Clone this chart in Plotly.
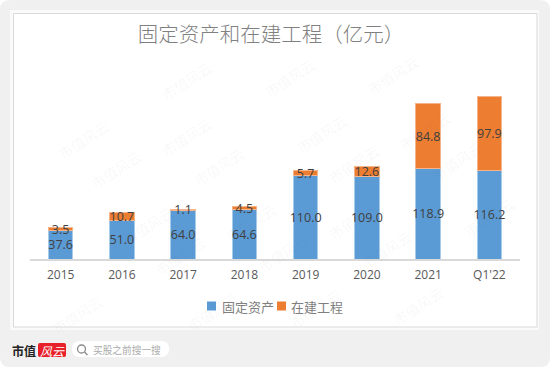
import plotly.graph_objects as go

W, H = 550, 367
categories = ["2015", "2016", "2017", "2018", "2019", "2020", "2021", "Q1'22"]
fixed_assets = [37.6, 51.0, 64.0, 64.6, 110.0, 109.0, 118.9, 116.2]
construction = [3.5, 10.7, 1.1, 4.5, 5.7, 12.6, 84.8, 97.9]
series_names = ["固定资产", "在建工程"]
series_colors = ["#5B9BD5", "#ED7D31"]
title_text = "固定资产和在建工程（亿元）"
watermark_text = "市值风云"
FONT = "Noto Sans CJK SC"

def px(x): return x / W
def py(y): return 1 - y / H

def rrect(x0, y0, x1, y1, r):
    X0, X1, Y0, Y1 = px(x0), px(x1), py(y0), py(y1)
    rx, ry = r / W, r / H
    return (f"M{X0+rx},{Y0} L{X1-rx},{Y0} Q{X1},{Y0} {X1},{Y0-ry} L{X1},{Y1+ry} Q{X1},{Y1} {X1-rx},{Y1} "
            f"L{X0+rx},{Y1} Q{X0},{Y1} {X0},{Y1+ry} L{X0},{Y0-ry} Q{X0},{Y0} {X0+rx},{Y0} Z")

fig = go.Figure()
fig.add_bar(name=series_names[0], x=categories, y=fixed_assets,
            marker=dict(color=series_colors[0], line=dict(color="#A9CBEA", width=1)),
            text=[f"{v:.1f}" for v in fixed_assets])
fig.add_bar(name=series_names[1], x=categories, y=construction,
            marker=dict(color=series_colors[1], line=dict(color="#F6B48A", width=1)),
            text=[f"{v:.1f}" for v in construction])
fig.update_traces(textposition="inside", insidetextanchor="middle", constraintext="none", textangle=0,
                  insidetextfont=dict(family="Open Sans", size=12.5, color="#404040"), cliponaxis=False)

P = dict(xref="paper", yref="paper", layer="below")
shapes = [
    dict(type="path", path=rrect(0, 0, W, H, 10), fillcolor="#F0F0F0", line_width=0, **P),
    dict(type="rect", x0=px(10), x1=px(539), y0=py(330), y1=py(10), fillcolor="#FAFAFA", line_width=0, **P),
    dict(type="rect", x0=px(13.5), x1=px(537), y0=py(327), y1=py(13.5), fillcolor="#FFFFFF", line=dict(color="#D9D9D9", width=1), **P),
    dict(type="path", path=rrect(72, 341, 169, 357, 8), fillcolor="#FFFFFF", line_width=0, **P),
    dict(type="path", path=rrect(38, 343, 66, 357, 2), fillcolor="#E8202A", line_width=0, **P),
    dict(type="circle", x0=px(77.5), x1=px(85.5), y0=py(353), y1=py(345), line=dict(color="#8A8A8A", width=1.3), **P),
    dict(type="line", x0=px(84.5), x1=px(87.5), y0=py(352), y1=py(355), line=dict(color="#8A8A8A", width=1.3), **P),
    dict(type="rect", x0=px(207), x1=px(216), y0=py(310.5), y1=py(301.5), fillcolor=series_colors[0], line_width=0, **P),
    dict(type="rect", x0=px(277), x1=px(286), y0=py(310.5), y1=py(301.5), fillcolor=series_colors[1], line_width=0, **P),
]

ann = []
# watermark lattice (only the ones that sit fully inside the page)
for r in range(-3, 9):
    for c in range(-2, 6):
        x = 20 + c * 135 + r * 32
        y = 58 - c * 3 + r * 56
        if 26 < x < W - 26 and 20 < y < H - 20:
            ann.append(dict(x=px(x), y=py(y), xref="paper", yref="paper", text=watermark_text, showarrow=False,
                            textangle=-33, font=dict(family=FONT, size=14, color="rgba(90,90,90,0.055)")))

def label(x, y, text, size, color, family=FONT, anchor="left", **kw):
    ann.append(dict(x=px(x), y=py(y), xref="paper", yref="paper", text=text, showarrow=False, xanchor=anchor,
                    yanchor="middle", font=dict(family=family, size=size, color=color), **kw))

label(10, 350, "<b>市值</b>", 12, "#222222")
label(52, 350, "<i>风云</i>", 12, "#FFFFFF", anchor="center")
label(91, 349.5, "买股之前搜一搜", 9.7, "#ABABAB")
label(220, 306, series_names[0], 13, "#7F7F7F")
label(289, 306, series_names[1], 13, "#7F7F7F")

fig.update_layout(
    width=W, height=H, autosize=False, barmode="stack", bargap=0.6,
    margin=dict(l=0, r=0, t=0, b=0, pad=0),
    paper_bgcolor="#FFFFFF", plot_bgcolor="rgba(0,0,0,0)",
    font=dict(family=FONT, color="#595959"),
    title=dict(text=title_text, x=271 / W, xanchor="center", y=py(35), yanchor="middle",
               font=dict(family=FONT, size=20.5, color="#808080", weight=300)),
    xaxis=dict(domain=[px(30), px(520)], type="category", showgrid=False, zeroline=False,
               showline=True, linecolor="#D9D9D9", linewidth=1.5,
               ticks="outside", ticklen=4, tickcolor="rgba(0,0,0,0)",
               tickfont=dict(family="Open Sans", size=12, color="#595959"), fixedrange=True),
    yaxis=dict(domain=[py(259), py(50)], range=[0, 274.6], visible=False, fixedrange=True),
    shapes=shapes, annotations=ann, showlegend=False,
)
fig.write_html("out.html", config={"displayModeBar": False},
               post_script="document.body.style.margin='0';document.body.style.overflow='hidden';")
